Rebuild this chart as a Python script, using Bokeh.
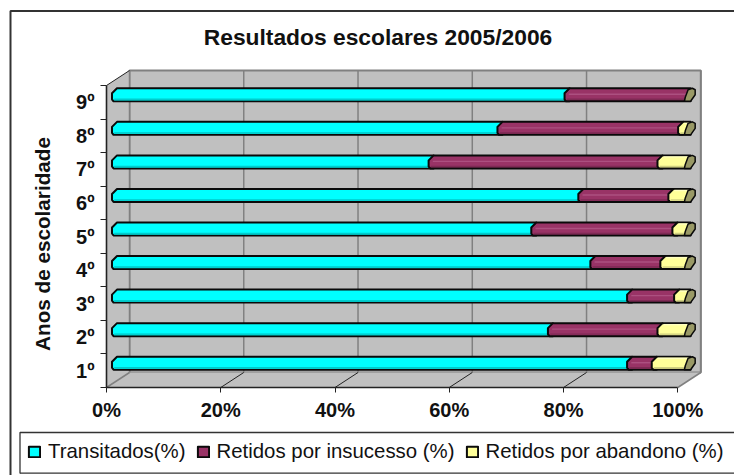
import math
from bokeh.plotting import figure
from bokeh.embed import file_html
from bokeh.resources import INLINE
from bokeh.models import Range1d, FixedTicker, Legend, LegendItem, Label, LinearAxis

# ---- data ----
title = "Resultados escolares 2005/2006"
y_title = "Anos de escolaridade"
categories = ["1º", "2º", "3º", "4º", "5º", "6º", "7º", "8º", "9º"]
transitados = [89.8, 76.0, 89.8, 83.4, 73.1, 81.3, 55.2, 67.2, 78.9]
insucesso = [4.3, 19.1, 8.2, 12.2, 24.6, 15.7, 39.9, 31.5, 21.1]
abandono = [5.9, 4.9, 2.0, 4.4, 2.3, 3.0, 4.9, 1.3, 0.0]
x_ticks = [0, 20, 40, 60, 80, 100]
series_names = ["Transitados(%)", "Retidos por insucesso (%)", "Retidos por abandono (%)"]

# ---- scale: page pixels of the plot box ----
X0, X100, YB, YT = 106.0, 677.3, 387.0, 85.0
SX = (X100 - X0) / 100.0
SY = (YB - YT) / 9.0
def X(px): return (px - X0) / SX
def Y(px): return 0.5 + (YB - px) / SY
DX, DY = 23.0 / SX, 15.0 / SY          # depth of the 3D box
N = len(categories)

p = figure(width=734, height=475, output_backend="svg", toolbar_location=None,
           x_range=Range1d(X(0), X(734)), y_range=Range1d(Y(475), Y(0)),
           min_border=0, outline_line_color=None, x_axis_type=None, y_axis_type=None)
p.background_fill_color = "white"
p.border_fill_color = "white"

# chart-area border and legend box
p.line([X(10), X(10), X(740)], [Y(480), Y(10.5), Y(10.5)], line_color="#333333", line_width=2)
p.line([X(19.5), X(19.5), X(740)], [Y(473), Y(432), Y(432)], line_color="#333333", line_width=1.3)
p.line([X(19.5), X(740)], [Y(472.7), Y(472.7)], line_color="#333333", line_width=1.3)

# 3D box
wall = "#C0C0C0"
edge = "#808080"
xl, xr, yl, yh = 0, 100, 0.5, N + 0.5
p.patch([xl + DX, xr + DX, xr + DX, xl + DX], [yl + DY, yl + DY, yh + DY, yh + DY], fill_color=wall, line_color=edge, line_width=2)
p.patch([xl, xl + DX, xl + DX, xl], [yl, yl + DY, yh + DY, yh], fill_color=wall, line_color=None)
p.patch([xl, xr, xr + DX, xl + DX], [yl, yl, yl + DY, yl + DY], fill_color=wall, line_color=None)
p.segment([t + DX for t in x_ticks], yl + DY, [t + DX for t in x_ticks], yh + DY, line_color=edge, line_width=1.5)
p.segment([t for t in x_ticks[1:-1]], yl, [t + DX for t in x_ticks[1:-1]], yl + DY, line_color="#222222", line_width=1)
p.segment([xl, xr], yl, [xl + DX, xr + DX], yl + DY, line_color=edge, line_width=1.5)
p.line([xl, xl + DX], [yh, yh + DY], line_color="#222222", line_width=1)

# bars
BAR_OFF = 5.5 / SX
BAR_K = 1.004
TOP = 14.0 / SY
BOT = 1.0 / SY
SL = 5.0 / SX
def bx(v): return v * BAR_K + BAR_OFF
def seg_shape(i, a, b):
    xa, xb = bx(a), bx(b)
    y_t, y_b = i + TOP, i + BOT
    xs = [xa + 1.5 / SX, xa, xa, xa + SL, xb + SL, xb + SL, xb]
    ys = [y_b, y_b + 2 / SY, y_t - 5 / SY, y_t, y_t, y_b, y_b]
    return xs, ys

starts = [0.0] * N
mids = [t for t in transitados]
ends = [t + r for t, r in zip(transitados, insucesso)]
tops = [e + a for e, a in zip(ends, abandono)]
layers = [
    (starts, mids, "#00FFFF", [(1.6, "#00DADA"), (2.0, "#00CCCC")]),
    (mids, ends, "#993366", [(7.0, "#AC5080"), (2.0, "#7E2A54")]),
    (ends, tops, "#FFFF99", [(11.5, "#FFFFC0"), (2.0, "#D0D080")]),
]
renderers = []
for lo, hi, col, stripes in layers:
    xs, ys = [], []
    rows = [i for i in range(N) if hi[i] > lo[i]]
    for i in rows:
        a, b = seg_shape(i + 1, lo[i], hi[i])
        xs.append(a)
        ys.append(b)
    r = p.patches(xs, ys, fill_color=col, line_color="#0A0A0A", line_width=2, line_join="round")
    renderers.append(r)
    for off, c in stripes:
        yy = [i + 1 + BOT + off / SY for i in rows]
        p.segment([bx(lo[i]) + SL * (off / 13.0) + 1.5 / SX for i in rows], yy,
                  [bx(hi[i]) - 1 / SX + SL * (off / 13.0) for i in rows], yy,
                  line_color=c, line_width=1.4)

# end caps
cap_x, cap_y = [], []
for i in range(N):
    e = bx(tops[i])
    c = i + 1
    cap_x.append([e - 1.2 / SX, e - 0.3 / SX, e + 2.5 / SX, e + 6.8 / SX, e + 9.6 / SX, e + 9.6 / SX, e + 5 / SX, e + 0.5 / SX])
    cap_y.append([c + BOT, c + 5 / SY, c + 12.5 / SY, c + TOP, c + 12.5 / SY, c + 7.5 / SY, c + BOT, c + BOT])
p.patches(cap_x, cap_y, fill_color="#999966", line_color="#0A0A0A", line_width=1.5, line_join="round")

# axes
xax = LinearAxis(fixed_location=0.5, bounds=(0, 100),
                 ticker=FixedTicker(ticks=x_ticks),
                 major_label_overrides={t: f"{t}%" for t in x_ticks})
xax.axis_line_color = "#222222"; xax.axis_line_width = 1.3
xax.major_tick_line_color = "#222222"; xax.major_tick_line_width = 1
xax.major_tick_in = 0; xax.major_tick_out = 5
xax.minor_tick_line_color = None
xax.major_label_standoff = 6
xax.major_label_text_font = "Liberation Sans"
xax.major_label_text_font_style = "bold"
xax.major_label_text_font_size = "20px"
xax.major_label_text_color = "#111111"
p.add_layout(xax, "below")

rows_pos = list(range(1, N + 1))
yax = LinearAxis(fixed_location=0, bounds=(0.5, N + 0.5),
                 ticker=FixedTicker(ticks=rows_pos, minor_ticks=[i - 0.5 for i in rows_pos] + [N + 0.5]),
                 major_label_overrides={i: c for i, c in zip(rows_pos, categories)})
yax.axis_line_color = "#222222"; yax.axis_line_width = 1.6
yax.major_tick_line_color = None
yax.major_tick_in = 0; yax.major_tick_out = 0
yax.minor_tick_line_color = "#222222"; yax.minor_tick_line_width = 1
yax.minor_tick_in = 0; yax.minor_tick_out = 6
yax.major_label_standoff = 6
yax.major_label_text_font = "Liberation Sans"
yax.major_label_text_font_style = "bold"
yax.major_label_text_font_size = "20px"
yax.major_label_text_color = "#111111"
p.add_layout(yax, "left")

# y-axis title
p.add_layout(Label(x=X(42), y=Y(243.5), text=y_title, angle=math.pi / 2, text_align="center", text_baseline="middle",
                   text_font="Liberation Sans", text_font_style="bold", text_font_size="20.7px",
                   text_color="#111111"))

# title
p.add_layout(Label(x=X(377.5), y=Y(36), text=title, text_align="center", text_baseline="middle",
                   text_font="Liberation Sans", text_font_style="bold", text_font_size="22.8px",
                   text_color="#111111"))

# legend
leg = Legend(items=[LegendItem(label=n, renderers=[r]) for n, r in zip(series_names, renderers)],
             orientation="horizontal", location=(27, 12), padding=0, margin=0, spacing=10,
             glyph_width=14, glyph_height=13, label_standoff=7,
             label_text_font="Liberation Sans", label_text_font_size="20.4px", label_text_color="#111111",
             background_fill_alpha=0, border_line_color=None)
p.add_layout(leg)

open("out.html", "w").write(file_html(p, INLINE))
